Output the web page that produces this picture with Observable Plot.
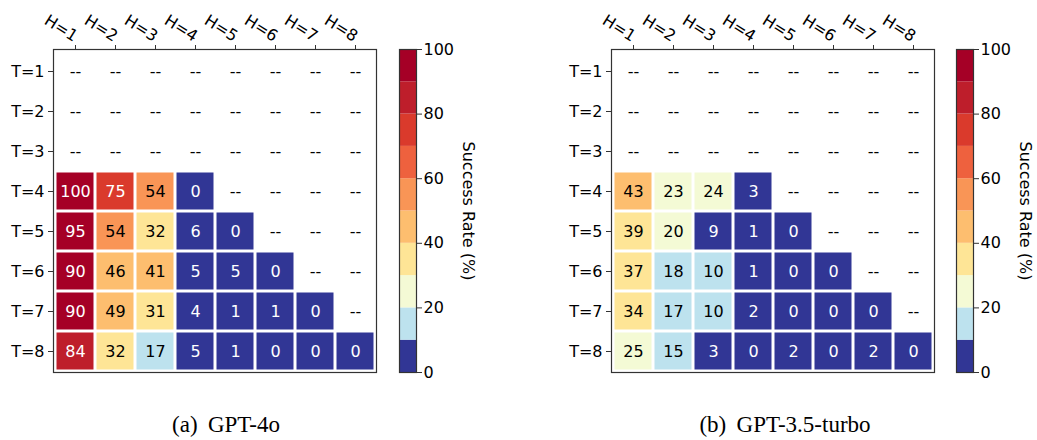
<!DOCTYPE html>
<html>
<head>
<meta charset="utf-8">
<script src="https://cdn.jsdelivr.net/npm/d3@7"></script>
<script src="https://cdn.jsdelivr.net/npm/@observablehq/plot@0.6"></script>
<style>
  html, body { margin: 0; padding: 0; background: #fff; }
  #wrap { position: relative; width: 1037px; height: 440px; overflow: hidden; font-family: "DejaVu Sans", sans-serif; }
  .abs { position: absolute; }
  .abs svg { overflow: visible; max-width: none !important; height: auto; }
  .cap { position: absolute; font-family: "Liberation Serif", "Times New Roman", serif; font-size: 23px; line-height: 23px; white-space: nowrap; transform: translateX(-50%); color: #000; word-spacing: 0.2em; }
</style>
</head>
<body>
<div id="wrap"></div>
<script>
// ---- data ----
const hLabels = ["H=1", "H=2", "H=3", "H=4", "H=5", "H=6", "H=7", "H=8"];
const tLabels = ["T=1", "T=2", "T=3", "T=4", "T=5", "T=6", "T=7", "T=8"];
const firstFilledT = 4; // rows T=1..3 have no data
// rows T=4..T=8, values for H=1..(T-3)
const gpt4oRows = [
  [100, 75, 54, 0],
  [95, 54, 32, 6, 0],
  [90, 46, 41, 5, 5, 0],
  [90, 49, 31, 4, 1, 1, 0],
  [84, 32, 17, 5, 1, 0, 0, 0]
];
const gpt35Rows = [
  [43, 23, 24, 3],
  [39, 20, 9, 1, 0],
  [37, 18, 10, 1, 0, 0],
  [34, 17, 10, 2, 0, 0, 0],
  [25, 15, 3, 0, 2, 0, 2, 0]
];
const colorBounds = [10, 20, 30, 40, 50, 60, 70, 80, 90];
const colorRange = ["#313695", "#bde2ee", "#f4fad5", "#fee596", "#fdbe6f", "#f99556", "#ee613e", "#da3a2c", "#be1e2b", "#a50026"];
const cbarTicks = [0, 20, 40, 60, 80, 100];
const cbarLabel = "Success Rate (%)";
const captions = ["(a) GPT-4o", "(b) GPT-3.5-turbo"];

// ---- build ----
const colorScale = {type: "threshold", domain: colorBounds, range: colorRange};
const wrap = document.getElementById("wrap");

function cellsFrom(rows) {
  const out = [];
  tLabels.forEach((t, ti) => {
    hLabels.forEach((h, hi) => {
      const r = ti - (firstFilledT - 1);
      const v = (r >= 0 && hi < rows[r].length) ? rows[r][hi] : null;
      out.push({t, h, v});
    });
  });
  return out;
}

function heatmap(rows) {
  const cells = cellsFrom(rows);
  const filled = cells.filter(d => d.v != null);
  const empty = cells.filter(d => d.v == null);
  return Plot.plot({
    width: 380, height: 376,
    marginLeft: 53, marginRight: 4, marginTop: 49, marginBottom: 4,
    style: {fontFamily: "DejaVu Sans", fontSize: "16px", color: "#000", background: "transparent"},
    x: {domain: hLabels, padding: 0},
    y: {domain: tLabels, padding: 0},
    color: colorScale,
    marks: [
      Plot.cell(filled, {x: "h", y: "t", fill: "v", inset: 1.5}),
      Plot.text(filled, {x: "h", y: "t", text: d => String(d.v), fontSize: 16,
        fill: d => (d.v < 10 || d.v >= 60) ? "#fff" : "#000"}),
      Plot.text(empty, {x: "h", y: "t", text: () => "--", fontSize: 16, fill: "#000"}),
      Plot.frame({stroke: "#333", strokeWidth: 1.2}),
      Plot.axisY({tickSize: 5, tickPadding: 4, label: null, fontSize: 16, stroke: "#333"}),
      Plot.axisX({anchor: "top", tickSize: 5, tickFormat: () => "", label: null, stroke: "#333"}),
      Plot.text(hLabels, {x: d => d, frameAnchor: "top", rotate: 32, textAnchor: "end", dx: 4, dy: -17, fontSize: 16, fill: "#000"})
    ]
  });
}

function colorbar() {
  const bins = [0].concat(colorBounds).map((lo, i, arr) => ({lo, hi: i < arr.length - 1 ? arr[i + 1] : 100}));
  return Plot.plot({
    width: 100, height: 376,
    marginLeft: 4, marginRight: 79, marginTop: 49, marginBottom: 4,
    style: {fontFamily: "DejaVu Sans", fontSize: "16px", color: "#000", background: "transparent"},
    y: {domain: [0, 100]},
    color: colorScale,
    marks: [
      Plot.rect(bins, {y1: "lo", y2: "hi", fill: "lo"}),
      Plot.frame({stroke: "#333", strokeWidth: 1.2}),
      Plot.axisY({anchor: "right", ticks: cbarTicks, tickSize: 5, tickPadding: 2, tickFormat: d => String(d), label: null, fontSize: 16, stroke: "#333"}),
      Plot.text([cbarLabel], {frameAnchor: "right", rotate: 90, textAnchor: "middle", dx: 52, fontSize: 16, fill: "#000"})
    ]
  });
}

function place(node, left, top, w) {
  const d = document.createElement("div");
  d.className = "abs";
  d.style.left = left + "px";
  d.style.top = top + "px";
  d.style.width = w + "px";
  d.appendChild(node);
  wrap.appendChild(d);
}

place(heatmap(gpt4oRows), 0, 0, 380);
place(colorbar(), 395, 0, 100);
place(heatmap(gpt35Rows), 558, 0, 380);
place(colorbar(), 952, 0, 100);

[[captions[0], 226], [captions[1], 785]].forEach(([txt, cx]) => {
  const c = document.createElement("div");
  c.className = "cap";
  c.style.left = cx + "px";
  c.style.top = "413px";
  c.textContent = txt;
  wrap.appendChild(c);
});
</script>
</body>
</html>
